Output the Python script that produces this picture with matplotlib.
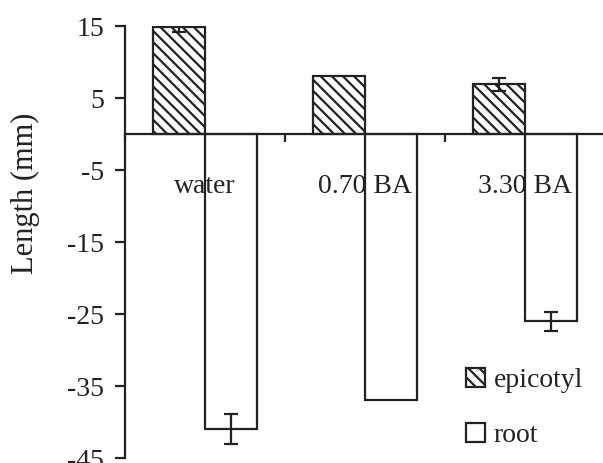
import matplotlib.pyplot as plt
import numpy as np

plt.rcParams['font.family'] = ['Liberation Serif', 'DejaVu Serif']
plt.rcParams['hatch.linewidth'] = 1.6

groups = ['water', '0.70 BA', '3.30 BA']
epicotyl = [14.9, 8.0, 6.9]
epicotyl_err = [0.8, 0.0, 0.9]
root = [-41.0, -37.0, -26.0]
root_err = [2.1, 0.0, 1.3]
yticks = [15, 5, -5, -15, -25, -35, -45]

fs = 20
fig = plt.figure(figsize=(6.03, 4.63), dpi=100)
ax = fig.add_axes([125 / 603, 5 / 463, 480 / 603, 432 / 463])

x = np.arange(len(groups)) + 0.5
w = 0.325
ax.bar(x - w / 2, epicotyl, w, color='white', edgecolor='#222222',
       linewidth=1.6, hatch='\\\\\\', label='epicotyl', zorder=2)
ax.bar(x + w / 2, root, w, color='none', edgecolor='#222222',
       linewidth=1.6, label='root', zorder=2)

# only draw error bars where there is an error
for xs, vals, errs in [(x - w / 2, epicotyl, epicotyl_err),
                       (x + w / 2, root, root_err)]:
    keep = [i for i, e in enumerate(errs) if e > 0]
    ax.errorbar(xs[keep], np.array(vals)[keep], yerr=np.array(errs)[keep],
                fmt='none', ecolor='#222222', elinewidth=1.6, capsize=5,
                capthick=1.6, zorder=3)

ax.set_xlim(0, 3)
ax.set_ylim(-45, 15)
ax.set_yticks(yticks)
ax.set_yticklabels([str(v) for v in yticks], fontsize=fs)

ax.spines['top'].set_visible(False)
ax.spines['right'].set_visible(False)
ax.spines['bottom'].set_position(('data', 0))
for s in ['left', 'bottom']:
    ax.spines[s].set_linewidth(1.6)
    ax.spines[s].set_color('#222222')
    ax.spines[s].set_zorder(4)

ax.set_xticks([0, 1, 2, 3])
ax.set_xticklabels([])
ax.set_xticks(x, minor=True)
ax.set_xticklabels(groups, minor=True, fontsize=fs, color='#222222')
ax.tick_params(axis='x', which='major', direction='out', length=6,
               width=1.6, color='#222222')
ax.tick_params(axis='x', which='minor', length=0, pad=29)
ax.tick_params(axis='y', direction='out', length=7, width=1.6,
               color='#222222', labelcolor='#222222', pad=8)

fig.text(25 / 603, 1 - 193 / 463, 'Length (mm)', rotation=90, fontsize=22,
         ha='center', va='center', color='#222222')

ax.legend(loc='center left', bbox_to_anchor=(466 / 603, 1 - 408 / 463),
          bbox_transform=fig.transFigure, frameon=False, fontsize=fs,
          handlelength=0.7, handleheight=0.7, handletextpad=0.3,
          labelspacing=1.05, borderpad=0, borderaxespad=0,
          labelcolor='#222222')

fig.savefig('out.png', dpi=100)
